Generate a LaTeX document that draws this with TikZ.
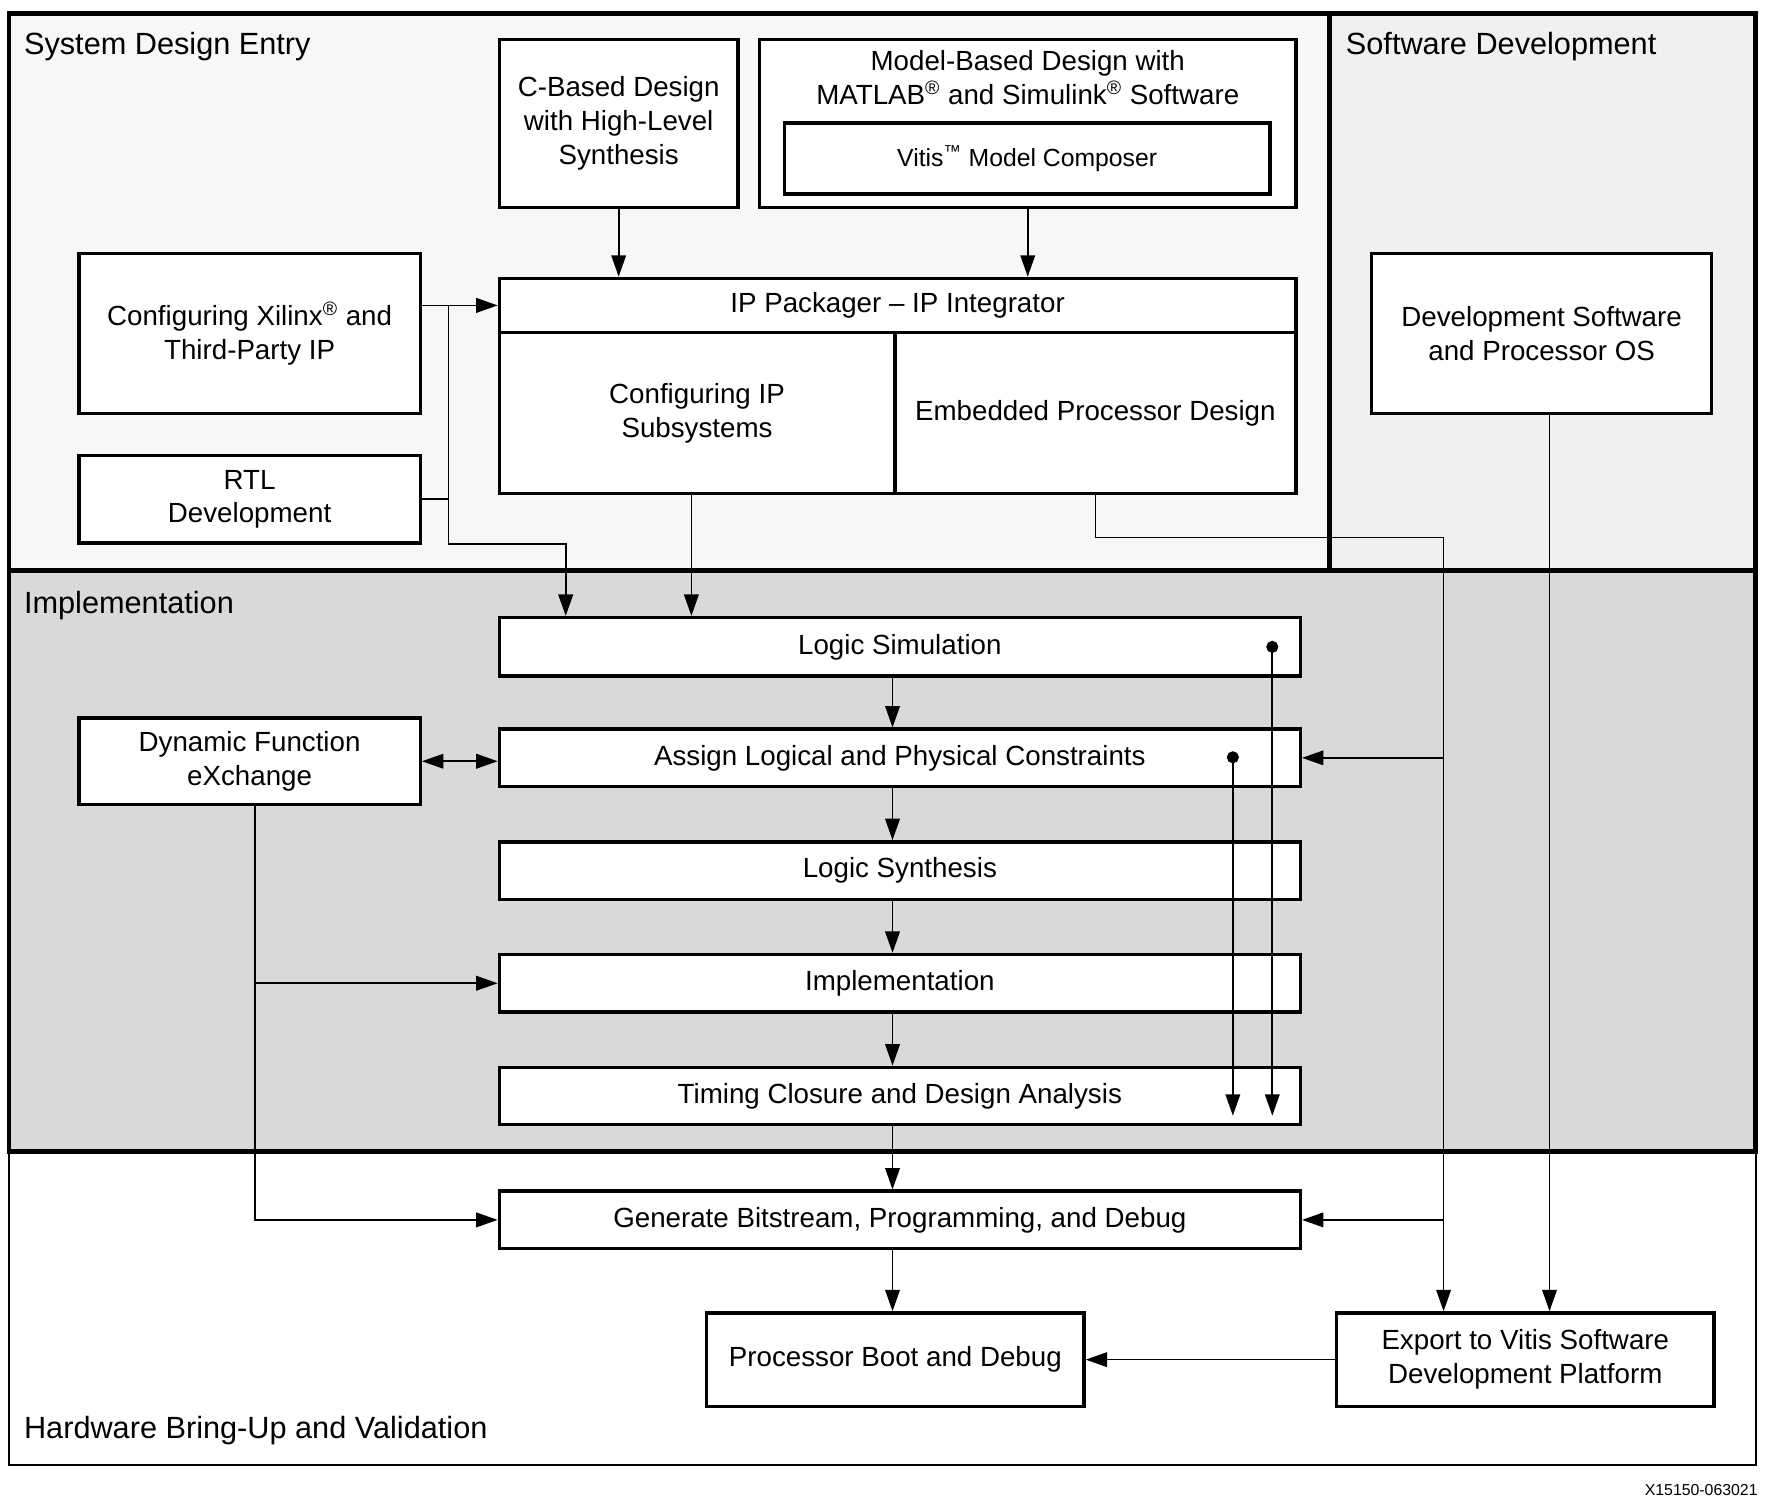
\documentclass[tikz,border=0pt]{standalone}
\usepackage{fontspec}
\setmainfont{Liberation Sans}
\usepackage{tikz}
\usepackage{xcolor}
\usetikzlibrary{arrows.meta}

\begin{document}
\begin{tikzpicture}[x=0.02cm,y=-0.02cm]
	\tikzstyle{box} = [draw=black, line width=1.7pt, fill=white, align=center, inner sep=0pt, font=\fontsize{14}{17}\selectfont]
	\tikzstyle{region} = [draw=black, line width=2.3pt]
	\tikzstyle{title} = [anchor=west, inner sep=0pt, font=\fontsize{15.5}{18}\selectfont]
	\tikzstyle{wire} = [line width=0.85pt]
	\tikzstyle{arr} = [wire, -{Triangle[length=0.38cm,width=0.26cm]}]
	\tikzstyle{dblarr} = [wire, {Triangle[length=0.38cm,width=0.26cm]}-{Triangle[length=0.38cm,width=0.26cm]}]
	\useasboundingbox (0,0) rectangle (1568,1336);
	\filldraw [region, fill=black!3] (8,12) rectangle (1180,506);
	\filldraw [region, fill=black!6] (1180,12) rectangle (1558,506);
	\draw [line width=0.8pt] (8,1022) rectangle (1558,1300);
	\filldraw [region, fill=black!15] (8,506) rectangle (1558,1022);
		\node[title] (sde) at (21,41) {System Design Entry};
		\node[title] (swd) at (1194,41) {Software Development};
		\node[title] (imp) at (21,537) {Implementation};
		\node[title] (hw) at (21,1269) {Hardware Bring-Up and Validation};
		\node[anchor=east, inner sep=0pt, font=\fontsize{8}{9}\selectfont] (fig) at (1560,1322) {X15150-063021};
		\node[box, minimum width=4.24cm, minimum height=2.98cm] (cbased) at (549,109.5) {C-Based Design\\with High-Level\\Synthesis};
		\node[box, minimum width=9.52cm, minimum height=2.98cm] (model) at (912,109.5) {};
		\node[align=center, inner sep=0pt, font=\fontsize{14}{17}\selectfont] (modeltxt) at (912,69) {Model-Based Design with\\MATLAB\textsuperscript{®} and Simulink\textsuperscript{®} Software};
		\node[box, minimum width=8.62cm, minimum height=1.26cm, font=\fontsize{12.5}{15}\selectfont] (vitis) at (911.5,140.5) {Vitis\textsuperscript{™} Model Composer};
		\node[box, minimum width=6.06cm, minimum height=2.84cm] (xilinx) at (221.5,296) {Configuring Xilinx\textsuperscript{®} and\\Third-Party IP};
		\node[box, minimum width=6.06cm, minimum height=1.56cm] (rtl) at (221.5,443) {RTL\\Development};
		\node[box, minimum width=14.14cm, minimum height=0.96cm] (ippack) at (796.5,271) {IP Packager – IP Integrator};
		\node[box, minimum width=7.02cm, minimum height=2.86cm] (cfgip) at (618.5,366.5) {Configuring IP\\Subsystems};
		\node[box, minimum width=7.12cm, minimum height=2.86cm] (embedded) at (972,366.5) {Embedded Processor Design};
		\node[box, minimum width=6.04cm, minimum height=2.84cm] (devsw) at (1368,296) {Development Software\\and Processor OS};
		\node[box, minimum width=14.22cm, minimum height=1.04cm] (logicsim) at (798.5,574) {Logic Simulation};
		\node[box, minimum width=14.22cm, minimum height=1.02cm] (assign) at (798.5,672.5) {Assign Logical and Physical Constraints};
		\node[box, minimum width=14.22cm, minimum height=1.02cm] (synth) at (798.5,772.5) {Logic Synthesis};
		\node[box, minimum width=14.22cm, minimum height=1.02cm] (impl) at (798.5,872.5) {Implementation};
		\node[box, minimum width=14.22cm, minimum height=1.02cm] (timing) at (798.5,972.5) {Timing Closure and Design Analysis};
		\node[box, minimum width=6.06cm, minimum height=1.54cm] (dfx) at (221.5,675.5) {Dynamic Function\\eXchange};
		\node[box, minimum width=14.22cm, minimum height=1.02cm] (bitstream) at (798.5,1082.5) {Generate Bitstream, Programming, and Debug};
		\node[box, minimum width=6.7cm, minimum height=1.66cm] (boot) at (794.5,1206.5) {Processor Boot and Debug};
		\node[box, minimum width=6.7cm, minimum height=1.66cm] (export) at (1353.5,1206.5) {Export to Vitis Software\\Development Platform};
	\coordinate (rtlup) at (398,271);
	\coordinate (rtlbend) at (502,483);
	\coordinate (epd) at (1281,477);
	\coordinate (swout) at ([xshift=0.14cm]devsw.south);
	\coordinate (ipout) at ([xshift=-0.1cm]cfgip.south);
	\coordinate (dfxout) at ([xshift=0.09cm]dfx.south);
	\coordinate (flow) at ([xshift=-0.05cm]boot.north);
	\coordinate (dotA) at (1129,574);
	\coordinate (dotB) at (1094,672);
	\draw [arr] (cbased.south) -- (cbased.south |- ippack.north);
	\draw [arr] (model.south) -- (model.south |- ippack.north);
	\draw [arr] (xilinx.east |- ippack.west) -- (ippack.west);
	\draw [wire] (rtl.east) -| (rtlup);
	\draw [arr] (rtlup) |- (rtlbend) -- (rtlbend |- logicsim.north);
	\draw [arr] (ipout) -- (ipout |- logicsim.north);
	\draw [arr] (embedded.south) |- (epd) -- (epd |- export.north);
	\draw [arr] (epd |- assign.east) -- (assign.east);
	\draw [arr] (epd |- bitstream.east) -- (bitstream.east);
	\draw [arr] (swout) -- (swout |- export.north);
	\foreach \a/\b in {logicsim/assign, assign/synth, synth/impl, impl/timing, timing/bitstream, bitstream/boot}
		\draw [arr] (\a.south -| flow) -- (\b.north -| flow);
	\draw [arr] (export.west) -- (boot.east);
	\draw [dblarr] (dfx.east) -- (dfx.east -| assign.west);
	\draw [arr] (dfxout) |- (bitstream.west);
	\draw [arr] (dfxout |- impl.west) -- (impl.west);
	\filldraw [black] (dotA) circle (0.1cm) (dotB) circle (0.1cm);
	\draw [arr] (dotA) -- (dotA |- 0,990);
	\draw [arr] (dotB) -- (dotB |- 0,990);
\end{tikzpicture}
\end{document}
